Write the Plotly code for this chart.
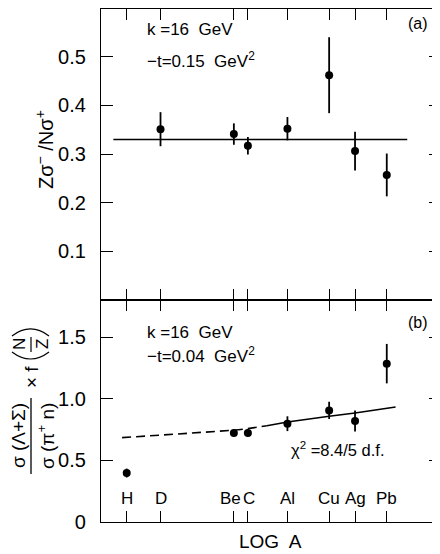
import numpy as np
import plotly.graph_objects as go

# ---------------- data ----------------
elements = ["H", "D", "Be", "C", "Al", "Cu", "Ag", "Pb"]
mass_A = [1, 2, 9, 12, 27, 63.5, 108, 207]

# panel (a): Z sigma- / N sigma+
a_A = [2, 9, 12, 27, 63.5, 108, 207]
a_val = [0.351, 0.341, 0.317, 0.352, 0.462, 0.306, 0.257]
a_err = [0.035, 0.022, 0.018, 0.024, 0.078, 0.040, 0.044]
a_line_A = [0.76, 315]
a_line_val = [0.33, 0.33]

# panel (b): sigma(Lambda+Sigma)/sigma(pi+ n) x f(N/Z)
b_A = [1, 9, 12, 27, 63.5, 108, 207]
b_val = [0.397, 0.722, 0.722, 0.797, 0.905, 0.819, 1.284]
b_err = [0.036, 0.030, 0.030, 0.060, 0.070, 0.085, 0.160]
fit_dash_A = [0.91, 2, 9, 12, 17.7]
fit_dash_val = [0.684, 0.703, 0.744, 0.757, 0.780]
fit_solid_A = [17.7, 27, 63.5, 108, 248]
fit_solid_val = [0.780, 0.811, 0.857, 0.884, 0.933]

a_ticks = [0.1, 0.2, 0.3, 0.4, 0.5]
a_ticktext = ["0.1", "0.2", "0.3", "0.4", "0.5"]
b_ticks = [0, 0.5, 1.0, 1.5]
b_ticktext = ["0", "0.5", "1.0", "1.5"]

# ---------------- layout helpers (page pixel coords) ----------------
W, H = 440, 554
OFF = 8                      # default body margin of the html page
L, R, T, B = 101, 441, 9, 522
MID = 300
FONT = "Liberation Sans"


def PX(x):
    return (x - L) / (R - L)


def PY(y):
    return (B - y) / (B - T)


fig = go.Figure()

# panel (a)
fig.add_trace(go.Scatter(x=a_line_A, y=a_line_val, mode="lines",
                         line=dict(color="black", width=1.5),
                         xaxis="x", yaxis="y", showlegend=False))
fig.add_trace(go.Scatter(x=a_A, y=a_val, mode="markers",
                         marker=dict(color="black", size=8),
                         error_y=dict(type="data", array=a_err, width=0,
                                      thickness=1.8, color="black"),
                         xaxis="x", yaxis="y", showlegend=False))

# panel (b)
fig.add_trace(go.Scatter(x=fit_dash_A, y=fit_dash_val, mode="lines",
                         line=dict(color="black", width=1.6, dash="9px,5px"),
                         xaxis="x2", yaxis="y2", showlegend=False))
fig.add_trace(go.Scatter(x=fit_solid_A, y=fit_solid_val, mode="lines",
                         line=dict(color="black", width=1.6),
                         xaxis="x2", yaxis="y2", showlegend=False))
fig.add_trace(go.Scatter(x=b_A, y=b_val, mode="markers",
                         marker=dict(color="black", size=8),
                         error_y=dict(type="data", array=b_err, width=0,
                                      thickness=1.8, color="black"),
                         xaxis="x2", yaxis="y2", showlegend=False))

xr = [-0.229, 2.799]
xcommon = dict(type="log", range=xr, tickvals=mass_A, ticks="inside",
               ticklen=11, tickwidth=1.3, tickcolor="black",
               showticklabels=False, showline=True, linecolor="black",
               linewidth=1.3, mirror="ticks", showgrid=False, zeroline=False,
               automargin=False)
ycommon = dict(ticks="inside", ticklen=12, tickwidth=1.0, tickcolor="black",
               showline=True, linecolor="black", linewidth=1.3,
               mirror="ticks", showgrid=False, zeroline=False,
               ticklabelstandoff=10, automargin=False,
               tickfont=dict(family=FONT, size=20, color="black"))

split = (B - MID) / (B - T)
fig.update_layout(
    width=W, height=H,
    margin=dict(l=L - OFF, r=W - (R - OFF), t=T - OFF, b=H - (B - OFF),
                autoexpand=False),
    plot_bgcolor="white", paper_bgcolor="white",
    font=dict(family=FONT, color="black"),
    xaxis=dict(domain=[0, 1], anchor="y", **xcommon),
    yaxis=dict(domain=[split, 1], anchor="x", range=[0, 0.598],
               tickvals=a_ticks, ticktext=a_ticktext, **ycommon),
    xaxis2=dict(domain=[0, 1], anchor="y2", **xcommon),
    yaxis2=dict(domain=[0, split], anchor="x2", range=[0, 1.80],
                tickvals=b_ticks, ticktext=b_ticktext, **ycommon),
)

ann = []


def txt(x, y, text, size, xanchor="center", angle=0):
    ann.append(dict(x=x, y=y, xref="paper", yref="paper", text=text,
                    showarrow=False, xanchor=xanchor, yanchor="middle",
                    textangle=angle,
                    font=dict(family=FONT, size=size, color="black")))


# panel texts
txt(PX(145), PY(29), "k =16  GeV", 17, "left")
txt(PX(145), PY(60), "−t=0.15  GeV<sup>2</sup>", 17, "left")
txt(PX(418), PY(23), "(a)", 16)
txt(PX(145), PY(332), "k =16  GeV", 17, "left")
txt(PX(145), PY(355), "−t=0.04  GeV<sup>2</sup>", 17, "left")
txt(PX(418), PY(322), "(b)", 16)

# element labels along the bottom axis (small nudges keep Be/C apart)
nudge = {"Be": -3, "C": 1.5}
for el, a in zip(elements, mass_A):
    ann.append(dict(x=np.log10(a), y=0.19, xref="x2", yref="y2", text=el,
                    showarrow=False, xanchor="center", yanchor="middle",
                    xshift=nudge.get(el, 0),
                    font=dict(family=FONT, size=17, color="black")))

# chi^2 label with leader arrow
ann.append(dict(x=PX(270), y=PY(430), xref="paper", yref="paper", text=" ",
                showarrow=True, arrowhead=2, arrowsize=1, arrowwidth=1,
                arrowcolor="black", ax=16, ay=18,
                font=dict(family=FONT, size=4)))
txt(PX(289), PY(449), "χ<sup>2</sup> =8.4/5 d.f.", 16.5, "left")

# x title
txt(PX(270), PY(541), "LOG  A", 19)

# y titles
txt(PX(44), PY(150), "Zσ<sup>−</sup> /Nσ<sup>+</sup>", 20, angle=-90)
txt(PX(18), PY(436), "σ (Λ+Σ)", 19, angle=-90)
txt(PX(46), PY(436), "σ (π<sup>+</sup> n)", 19, angle=-90)
txt(PX(31), PY(377), "× f", 19, angle=-90)
txt(PX(19), PY(344), "N", 17, angle=-90)
txt(PX(42), PY(344), "Z", 17, angle=-90)

fig.update_layout(annotations=ann)

shapes = []
# fraction bars
shapes.append(dict(type="line", xref="paper", yref="paper",
                   x0=PX(31), x1=PX(31), y0=PY(398), y1=PY(474),
                   line=dict(color="black", width=1.3)))
shapes.append(dict(type="line", xref="paper", yref="paper",
                   x0=PX(31), x1=PX(31), y0=PY(337), y1=PY(352),
                   line=dict(color="black", width=1.2)))
# big parentheses around N/Z
for y0, yc in [(352, 366), (336, 322)]:
    path = "M {:.4f},{:.4f} Q {:.4f},{:.4f} {:.4f},{:.4f}".format(
        PX(12), PY(y0), PX(30.5), PY(yc), PX(49), PY(y0))
    shapes.append(dict(type="path", xref="paper", yref="paper", path=path,
                       line=dict(color="black", width=1.2)))
fig.update_layout(shapes=shapes)

fig.write_html("out.html")
